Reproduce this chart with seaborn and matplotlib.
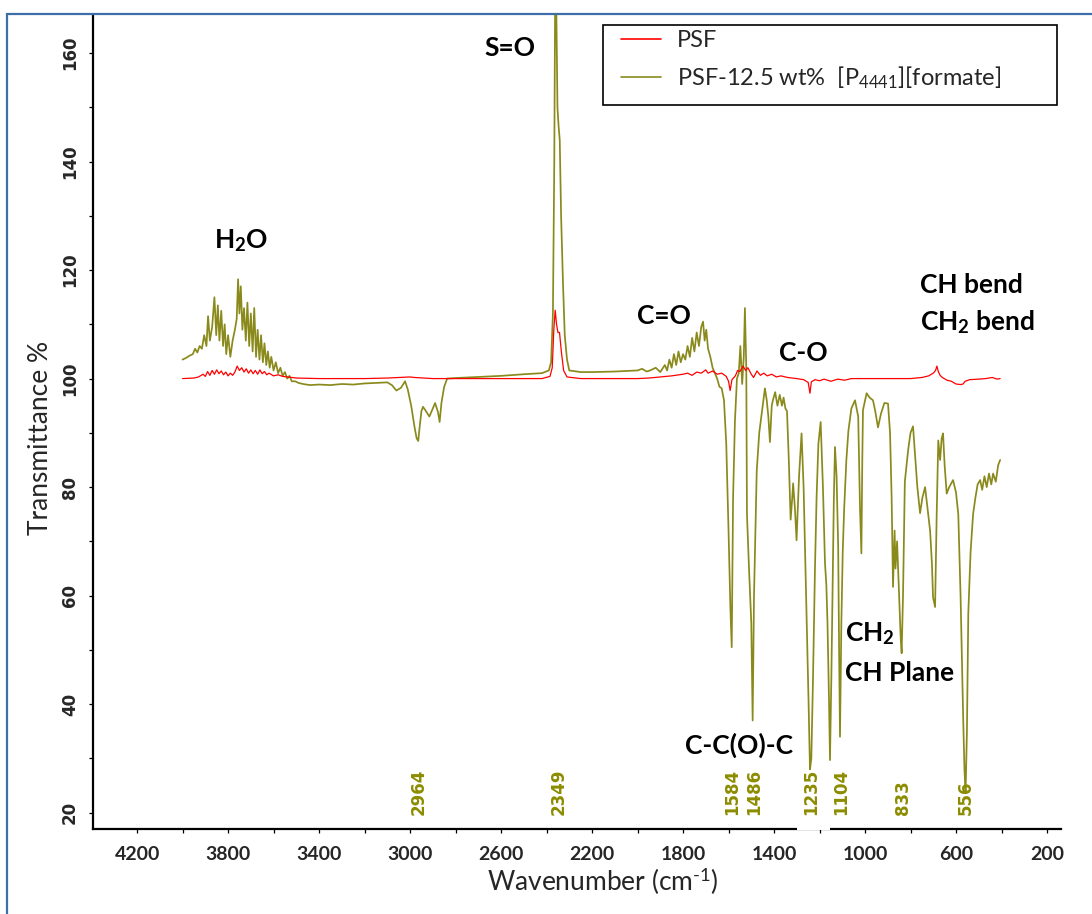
import matplotlib
matplotlib.use("Agg")
import matplotlib.pyplot as plt
import numpy as np
import pandas as pd
import seaborn as sns
from matplotlib.patches import Rectangle

# ---------------- data ----------------
psf_wn = [4000, 3950, 3930, 3910, 3900, 3890, 3880, 3870, 3860, 3850, 3840, 3830, 3820, 3810,
          3800, 3790, 3780, 3770, 3760, 3750, 3740, 3730, 3720, 3710, 3700, 3690, 3680, 3670,
          3660, 3650, 3640, 3630, 3620, 3600, 3580, 3560, 3540, 3500, 3400, 3300, 3200, 3100,
          3000, 2980, 2900, 2800, 2600, 2420, 2385, 2375, 2368, 2362, 2356, 2350, 2343, 2335,
          2325, 2310, 2250, 2000, 1950, 1900, 1850, 1800, 1780, 1760, 1740, 1720, 1700, 1690,
          1670, 1650, 1630, 1610, 1600, 1593, 1585, 1570, 1560, 1550, 1536, 1525, 1515, 1500,
          1490, 1475, 1460, 1445, 1430, 1410, 1390, 1370, 1340, 1300, 1270, 1250, 1242, 1236,
          1220, 1200, 1180, 1150, 1120, 1090, 1060, 1000, 950, 900, 800, 750, 720, 700, 690,
          684, 678, 670, 660, 640, 620, 600, 580, 569, 560, 540, 500, 470, 440, 420, 406]
psf_t = [100.0, 100.1, 100.3, 100.8, 100.4, 101.3, 100.6, 101.5, 100.8, 101.6, 100.9, 101.4, 100.7, 101.2,
         100.5, 101.0, 100.6, 101.2, 102.3, 101.5, 102.0, 101.2, 101.8, 101.0, 101.6, 100.9, 101.5, 100.8,
         101.6, 100.9, 101.3, 100.7, 101.0, 100.5, 100.7, 100.4, 100.3, 100.1, 100.0, 100.0, 100.0, 100.1,
         100.3, 100.2, 100.0, 100.0, 100.0, 100.0, 100.4, 102.0, 109.0, 112.6, 110.0, 108.5, 108.5, 105.0,
         101.5, 100.3, 100.0, 100.0, 100.1, 100.3, 100.5, 100.8, 101.0, 100.6, 101.2, 101.0, 101.6, 101.0,
         101.4, 100.8, 101.0, 100.4, 99.5, 97.8, 99.8, 100.5, 101.5, 101.3, 102.3, 101.5, 102.0, 100.8,
         100.2, 101.4, 100.6, 101.0, 100.5, 100.8, 100.3, 100.5, 100.2, 100.0, 99.8, 99.3, 97.3, 99.4,
         99.8, 99.6, 99.9, 99.5, 99.9, 99.7, 100.0, 100.0, 100.0, 100.0, 100.0, 100.2, 100.5, 101.0, 101.5,
         102.3, 101.3, 100.6, 100.2, 99.7, 99.5, 99.0, 98.9, 99.0, 99.5, 99.8, 99.9, 100.0, 100.2, 99.9, 100.0]

comp_wn = [4000, 3985, 3970, 3955, 3945, 3935, 3925, 3915, 3905, 3895, 3888, 3880, 3870, 3860,
           3852, 3845, 3838, 3830, 3822, 3815, 3808, 3800, 3790, 3780, 3770, 3762, 3756, 3750,
           3744, 3737, 3730, 3722, 3715, 3707, 3700, 3692, 3685, 3677, 3670, 3662, 3655, 3647,
           3640, 3632, 3625, 3617, 3610, 3600, 3590, 3580, 3570, 3560, 3550, 3540, 3530, 3520,
           3505, 3490, 3470, 3440, 3400, 3350, 3300, 3250, 3200, 3150, 3100, 3080, 3060, 3040,
           3022, 3010, 2995, 2980, 2971, 2964, 2958, 2950, 2943, 2930, 2915, 2900, 2890, 2877,
           2870, 2862, 2850, 2837, 2800, 2700, 2600, 2500, 2420, 2390, 2380, 2372, 2366, 2362,
           2357, 2352, 2347, 2342, 2336, 2328, 2320, 2310, 2300, 2250, 2200, 2100, 2050, 2000, 1980,
           1960, 1945, 1920, 1900, 1880, 1870, 1860, 1850, 1840, 1830, 1820, 1810, 1800, 1790,
           1780, 1770, 1760, 1750, 1740, 1730, 1720, 1712, 1705, 1698, 1690, 1680, 1670, 1660,
           1650, 1640, 1630, 1620, 1610, 1600, 1592, 1586, 1580, 1572, 1563, 1555, 1548, 1540,
           1533, 1528, 1522, 1519, 1510, 1500, 1494, 1488, 1476, 1465, 1454, 1440, 1432, 1425,
           1418, 1410, 1405, 1395, 1385, 1375, 1365, 1358, 1350, 1343, 1335, 1327, 1320, 1316,
           1308, 1301, 1290, 1279, 1270, 1257, 1248, 1242, 1236, 1229, 1220, 1213, 1205, 1195,
           1185, 1176, 1170, 1165, 1158, 1154, 1148, 1142, 1137, 1132, 1125, 1118, 1114, 1110,
           1104, 1098, 1092, 1082, 1073, 1060, 1044, 1030, 1022, 1016, 1012, 1009, 993, 980,
           965, 955, 943, 930, 915, 899, 890, 883, 877, 870, 866, 859, 850, 843, 839, 833, 825,
           810, 800, 789, 780, 770, 758, 748, 736, 725, 714, 706, 701, 692, 685, 678, 670, 663,
           657, 650, 641, 630, 613, 600, 590, 580, 569, 563, 558, 552, 546, 536, 525, 515, 505,
           494, 485, 475, 465, 455, 445, 437, 425, 415, 406]
comp_t = [103.5, 103.8, 104.2, 104.5, 105.5, 104.8, 106.0, 105.5, 108.0, 106.0, 111.5, 107.0, 109.5, 115.0,
          108.0, 113.5, 107.0, 112.5, 106.0, 110.0, 104.5, 108.0, 104.0, 107.0, 109.0, 111.0, 118.3, 112.0,
          117.0, 109.0, 113.0, 107.0, 114.0, 106.0, 112.0, 105.0, 113.0, 104.0, 109.0, 103.5, 108.0, 103.0,
          106.5, 102.5, 105.0, 102.0, 104.0, 101.5, 103.0, 101.0, 102.0, 100.5, 101.2, 100.0, 100.5, 99.5,
          99.5, 99.2, 99.0, 98.8, 98.9, 98.8, 99.0, 98.9, 99.1, 99.2, 99.3, 98.8, 97.8, 98.3,
          99.5, 98.0, 95.0, 91.0, 89.0, 88.5, 91.0, 94.0, 94.8, 94.0, 93.0, 94.5, 95.5, 93.8,
          92.0, 95.5, 98.5, 100.0, 100.1, 100.3, 100.5, 100.8, 101.0, 101.5, 103.0, 112.0, 140.0, 172.0,
          168.0, 150.0, 146.5, 144.0, 130.0, 118.0, 108.0, 103.5, 101.5, 101.2, 101.2, 101.3, 101.4, 101.5, 101.8,
          101.3, 101.5, 102.0, 101.2, 102.5, 101.5, 103.5, 102.0, 104.5, 102.5, 105.0, 103.0, 104.5, 103.5,
          106.0, 104.0, 107.5, 105.0, 108.5, 106.0, 109.5, 110.5, 107.0, 109.0, 105.5, 104.0, 102.0, 101.0,
          100.0, 98.5, 98.2, 96.0, 88.0, 72.0, 58.0, 50.5, 78.0, 92.0, 100.0, 101.0, 106.0, 99.0,
          104.0, 113.0, 102.0, 75.0, 65.0, 55.0, 37.0, 60.0, 83.0, 90.0, 93.6, 98.2, 96.0, 93.0,
          88.3, 95.0, 96.0, 97.5, 95.0, 97.0, 95.0, 96.5, 94.5, 94.0, 85.0, 74.0, 78.0, 80.7,
          76.0, 70.2, 82.0, 89.9, 80.0, 56.8, 40.0, 28.0, 30.0, 44.0, 65.0, 78.0, 88.0, 92.0,
          80.0, 66.0, 62.0, 55.0, 40.0, 29.7, 45.0, 62.8, 78.0, 87.4, 82.0, 69.0, 50.0, 34.0,
          55.0, 68.0, 75.7, 85.0, 90.4, 94.5, 96.0, 93.0, 76.0, 67.8, 85.0, 94.2, 97.3, 96.5,
          96.0, 94.0, 91.0, 93.5, 95.5, 95.4, 90.0, 78.0, 61.6, 72.0, 65.0, 70.0, 60.0, 52.0, 49.4, 60.0, 81.0,
          87.0, 90.0, 91.2, 86.0, 80.0, 75.2, 78.0, 80.0, 76.0, 72.0, 66.0, 59.7, 57.9, 75.0, 88.6, 85.0, 89.0,
          89.9, 84.0, 78.8, 80.0, 81.3, 79.0, 75.0, 60.0, 38.4, 28.0, 23.6, 35.0, 56.8, 68.0, 75.0, 78.0, 80.5,
          81.3, 79.5, 82.0, 80.0, 82.5, 80.5, 82.5, 81.0, 84.0, 85.0]

series_names = ["PSF", "PSF-12.5 wt%  [P$_{4441}$][formate]"]
peak_labels = ["2964", "2349", "1584", "1486", "1235", "1104", "833", "556"]
peak_wn = [2964, 2349, 1584, 1486, 1235, 1104, 833, 556]

band_texts = ["S=O", r"H$_\mathbf{2}$O", "C=O", "C-O", "CH bend", r"CH$_\mathbf{2}$ bend",
              r"CH$_\mathbf{2}$", "CH Plane", "C-C(O)-C"]
band_x = [2560, 3743, 1884, 1273, 758, 758, 1088, 1088, 1554]
band_y = [161, 125.4, 111.5, 104.8, 117.3, 110.5, 53.1, 45.7, 32.5]
band_ha = ["center", "center", "center", "center", "left", "left", "left", "left", "center"]

# ---------------- style ----------------
sns.set_theme(style="white")
plt.rcParams["font.family"] = ["Lato", "DejaVu Sans"]
plt.rcParams["mathtext.fontset"] = "custom"
plt.rcParams["mathtext.rm"] = "Lato"
plt.rcParams["mathtext.it"] = "Lato:italic"
plt.rcParams["mathtext.bf"] = "Lato:bold"

RED = "#ff0000"
OLIVE = "#8a8a1c"
OLIVE_TXT = "#8c8c00"

fig = plt.figure(figsize=(10.92, 9.14), dpi=100)
ax = fig.add_axes([0.0849, 0.0930, 0.8864, 0.8906])

df_psf = pd.DataFrame({"wn": psf_wn, "T": psf_t})
df_comp = pd.DataFrame({"wn": comp_wn, "T": comp_t})
sns.lineplot(data=df_psf, x="wn", y="T", ax=ax, color=RED, lw=0.9, sort=False,
             estimator=None, label=series_names[0], zorder=3)
sns.lineplot(data=df_comp, x="wn", y="T", ax=ax, color=OLIVE, lw=1.25, sort=False,
             estimator=None, label=series_names[1], zorder=2)

ax.set_xlim(4395, 140)
ax.set_ylim(17, 167)

for s in ["top", "right"]:
    ax.spines[s].set_visible(False)
for s in ["left", "bottom"]:
    ax.spines[s].set_color("black")
    ax.spines[s].set_linewidth(1.6)

ax.set_xticks(list(range(4200, 199, -400)))
ax.set_xticks(list(range(4000, 399, -400)), minor=True)
ax.set_yticks(list(range(20, 161, 20)))
ax.set_yticks(list(range(30, 151, 20)), minor=True)
ax.tick_params(axis="both", which="both", direction="out", length=3, width=0.9,
               color="black", bottom=True, left=True)
ax.tick_params(axis="x", which="major", pad=9, labelsize=14)
ax.tick_params(axis="y", which="major", pad=7, labelsize=12, labelrotation=90)
for lab in ax.get_xticklabels():
    lab.set_fontweight("bold")
for lab in ax.get_yticklabels():
    lab.set_fontweight("bold")
    lab.set_family("DejaVu Sans")
    lab.set_va("center")

ax.set_xlabel("Wavenumber (cm$^{\u20101}$)", fontsize=19)
ax.xaxis.label.set_va("center")
ax.xaxis.set_label_coords(0.527, -0.065)
ax.set_ylabel("Transmittance %", fontsize=19)
ax.yaxis.label.set_va("center")
ax.yaxis.set_label_coords(-0.0544, 0.48)

# peak position labels
for lab, wn in zip(peak_labels, peak_wn):
    ax.text(wn, 19.6, lab, rotation=90, ha="center", va="bottom", color=OLIVE_TXT,
            fontsize=12, fontweight="bold", family="DejaVu Sans", zorder=6)

# band annotations
for t, x, y, ha in zip(band_texts, band_x, band_y, band_ha):
    ax.text(x, y, t, ha=ha, va="center", fontsize=19, fontweight="bold", color="black", zorder=6)

# white patch artefact near bottom
ax.add_patch(Rectangle((1299, 16.8), -145, 8.5, facecolor="white", edgecolor="none",
                       clip_on=False, zorder=4))

# legend with separate frame
leg = ax.legend(loc="upper left", bbox_to_anchor=(621 / 1092, 1 - 30 / 914),
                bbox_transform=fig.transFigure, frameon=False, fontsize=17,
                handlelength=1.7, handletextpad=0.68, labelspacing=0.55,
                borderpad=0, borderaxespad=0)
for h in leg.get_lines():
    h.set_linewidth(1.2)
fig.add_artist(Rectangle((603 / 1092, 1 - 105 / 914), 454 / 1092, 80 / 914,
                         transform=fig.transFigure, facecolor="none", edgecolor="black",
                         linewidth=1.2))

# outer blue frame
fig.add_artist(Rectangle((7 / 1092, -0.05), 1.2, 1 - 14.3 / 914 + 0.05,
                         transform=fig.transFigure, facecolor="none", edgecolor="#3d6ea8",
                         linewidth=1.6, clip_on=False))

fig.savefig("out.png", dpi=100)
